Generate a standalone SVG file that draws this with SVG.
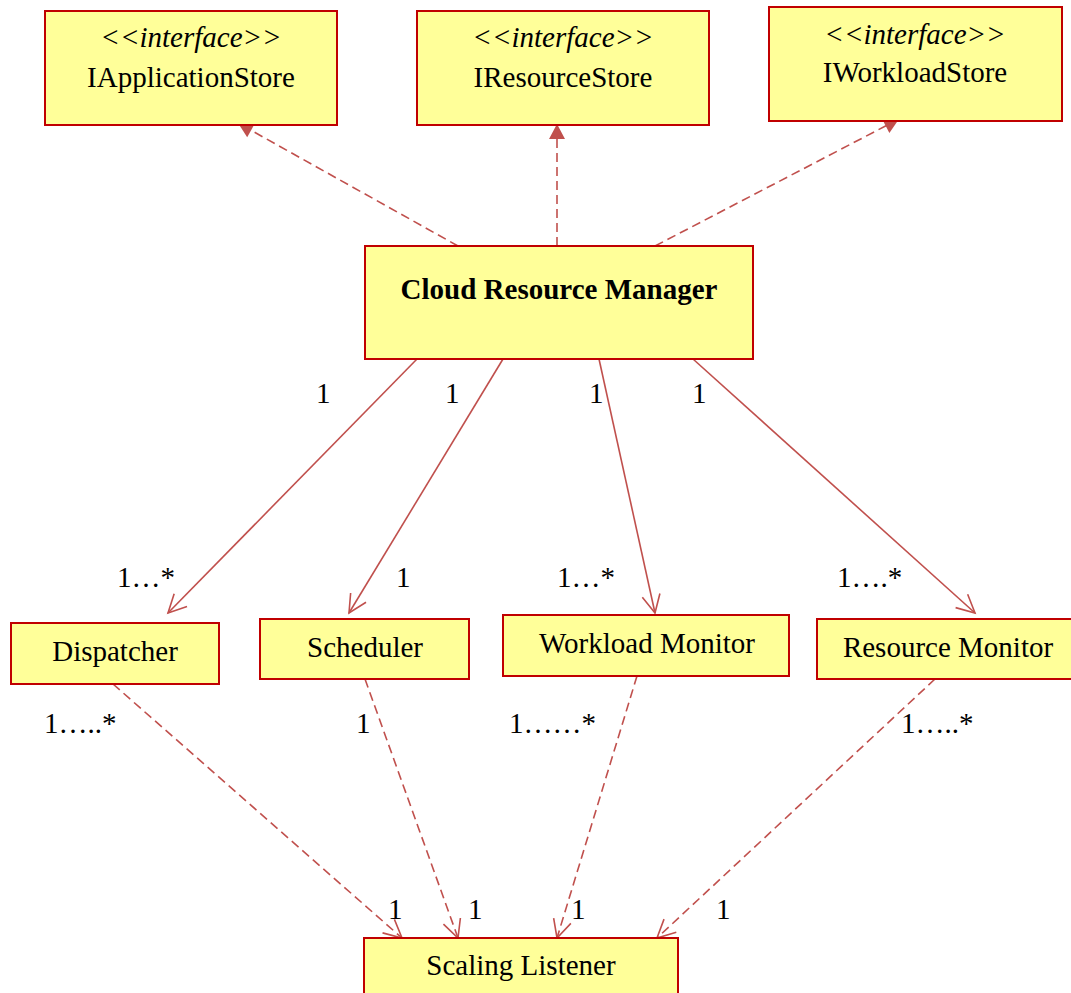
<svg xmlns="http://www.w3.org/2000/svg" width="1071" height="993" viewBox="0 0 1071 993">
  <style>
    .box { fill: #FFFF99; stroke: #C00000; stroke-width: 2; }
    .t { font-family: "Liberation Serif", "Times New Roman", serif; font-size: 29px; fill: #000; }
    .c { text-anchor: middle; }
    .it { font-style: italic; }
    .b { font-weight: bold; }
    .assoc { fill: none; stroke: #C0504D; stroke-width: 1.6; }
    .dash { fill: none; stroke: #C0504D; stroke-width: 1.6; stroke-dasharray: 9 5; }
  </style>
  <defs>
    <marker id="open" markerUnits="userSpaceOnUse" markerWidth="24" markerHeight="24" refX="20" refY="10" orient="auto" overflow="visible">
      <path d="M2,1 L20,10 L2,19" fill="none" stroke="#C0504D" stroke-width="1.6"/>
    </marker>
    <marker id="filled" markerUnits="userSpaceOnUse" markerWidth="18" markerHeight="18" refX="15" refY="8" orient="auto" overflow="visible">
      <path d="M0,0 L15,8 L0,16 z" fill="#C0504D" stroke="none"/>
    </marker>
  </defs>

  <!-- connectors (drawn first so boxes sit on top) -->
  <g id="connectors">
    <!-- realisation of the store interfaces -->
    <path class="dash" d="M458,246 L238,123" marker-end="url(#filled)"/>
    <path class="dash" d="M557,246 L557,124" marker-end="url(#filled)"/>
    <path class="dash" d="M655,246 L899,119" marker-end="url(#filled)"/>
    <!-- manager associations -->
    <path class="assoc" d="M417,359 L168,613" marker-end="url(#open)"/>
    <path class="assoc" d="M503,359 L349,613" marker-end="url(#open)"/>
    <path class="assoc" d="M599,359 L655,613" marker-end="url(#open)"/>
    <path class="assoc" d="M693,359 L975,613" marker-end="url(#open)"/>
    <!-- dependencies on the scaling listener -->
    <path class="dash" d="M113,684 L402,938" marker-end="url(#open)"/>
    <path class="dash" d="M365,679 L458,938" marker-end="url(#open)"/>
    <path class="dash" d="M637,676 L557,938" marker-end="url(#open)"/>
    <path class="dash" d="M935,679 L657,938" marker-end="url(#open)"/>

    <!-- multiplicities -->
    <g class="t">
      <text x="316" y="403">1</text>
      <text x="445" y="403">1</text>
      <text x="589" y="403">1</text>
      <text x="692" y="403">1</text>

      <text x="117" y="587">1…*</text>
      <text x="396" y="587">1</text>
      <text x="557" y="587">1…*</text>
      <text x="837" y="587">1….*</text>

      <text x="44" y="733">1…..*</text>
      <text x="356" y="733">1</text>
      <text x="509" y="733">1……*</text>
      <text x="901" y="733">1…..*</text>

      <text x="388" y="919">1</text>
      <text x="468" y="919">1</text>
      <text x="571" y="919">1</text>
      <text x="716" y="919">1</text>
    </g>
  </g>

  <g id="IApplicationStore">
    <rect class="box" x="45" y="11" width="292" height="114"/>
    <text class="t c it" x="191" y="47">&lt;&lt;interface&gt;&gt;</text>
    <text class="t c" x="191" y="87">IApplicationStore</text>
  </g>

  <g id="IResourceStore">
    <rect class="box" x="417" y="11" width="292" height="114"/>
    <text class="t c it" x="563" y="47">&lt;&lt;interface&gt;&gt;</text>
    <text class="t c" x="563" y="87">IResourceStore</text>
  </g>

  <g id="IWorkloadStore">
    <rect class="box" x="769" y="7" width="293" height="114"/>
    <text class="t c it" x="915" y="44">&lt;&lt;interface&gt;&gt;</text>
    <text class="t c" x="915" y="82">IWorkloadStore</text>
  </g>

  <g id="CloudResourceManager">
    <rect class="box" x="365" y="246" width="388" height="113"/>
    <text class="t c b" x="559" y="299">Cloud Resource Manager</text>
  </g>

  <g id="Dispatcher">
    <rect class="box" x="11" y="623" width="208" height="61"/>
    <text class="t c" x="115" y="661">Dispatcher</text>
  </g>

  <g id="Scheduler">
    <rect class="box" x="260" y="619" width="209" height="60"/>
    <text class="t c" x="365" y="657">Scheduler</text>
  </g>

  <g id="WorkloadMonitor">
    <rect class="box" x="503" y="615" width="286" height="61"/>
    <text class="t c" x="647" y="653">Workload Monitor</text>
  </g>

  <g id="ResourceMonitor">
    <rect class="box" x="817" y="619" width="262" height="60"/>
    <text class="t c" x="948" y="657">Resource Monitor</text>
  </g>

  <g id="ScalingListener">
    <rect class="box" x="364" y="938" width="314" height="70"/>
    <text class="t c" x="521" y="975">Scaling Listener</text>
  </g>
</svg>
